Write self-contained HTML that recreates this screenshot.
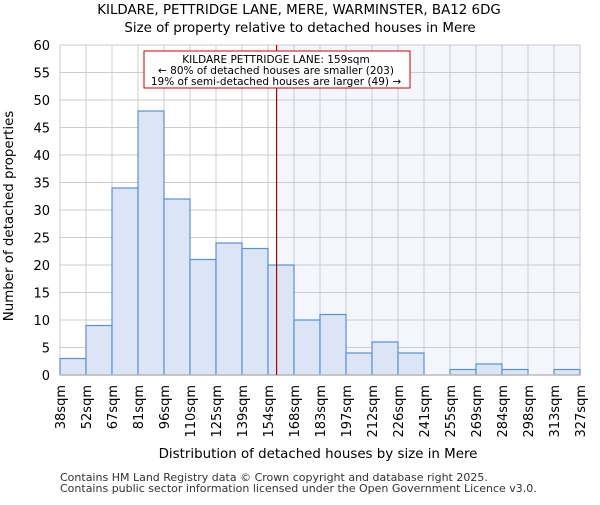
<!DOCTYPE html>
<html><head><meta charset="utf-8"><style>body{margin:0;background:#fff}svg{font-family:"DejaVu Sans","Liberation Sans",sans-serif}</style></head>
<body>
<svg id="c" width="600" height="500" xmlns="http://www.w3.org/2000/svg">
<text x="299" y="14" text-anchor="middle" font-size="13.4">KILDARE, PETTRIDGE LANE, MERE, WARMINSTER, BA12 6DG</text>
<text x="300" y="32" text-anchor="middle" font-size="13.4">Size of property relative to detached houses in Mere</text>
<g id="plot"></g>
<text x="318" y="458" text-anchor="middle" font-size="13.4">Distribution of detached houses by size in Mere</text>
<text transform="translate(13,216) rotate(-90)" text-anchor="middle" font-size="13.4">Number of detached properties</text>
<text x="60" y="481" font-size="11" fill="#333">Contains HM Land Registry data © Crown copyright and database right 2025.</text>
<text x="60" y="492" font-size="11" fill="#333">Contains public sector information licensed under the Open Government Licence v3.0.</text>
</svg>
<script>
const categories=["38sqm","52sqm","67sqm","81sqm","96sqm","110sqm","125sqm","139sqm","154sqm","168sqm","183sqm","197sqm","212sqm","226sqm","241sqm","255sqm","269sqm","284sqm","298sqm","313sqm","327sqm"];
const counts=[3,9,34,48,32,21,24,23,20,10,11,4,6,4,0,1,2,1,0,1];
const yTicks=[0,5,10,15,20,25,30,35,40,45,50,55,60];
const markerIndex=8.33;
const NS="http://www.w3.org/2000/svg";
const L=60,R=580,T=45,B=375,yMax=60;
const n=counts.length,bw=(R-L)/n;
const xs=i=>L+i*bw, ys=v=>B-(v/yMax)*(B-T);
const g=document.getElementById('plot');
function el(t,a){const e=document.createElementNS(NS,t);for(const k in a)e.setAttribute(k,a[k]);g.appendChild(e);return e;}
const mx=xs(markerIndex);
let s=el('rect',{x:mx,y:T,width:R-mx,height:B-T,fill:'#f3f6fd'});


yTicks.forEach(v=>{
  const l=el('line',{x1:L,x2:R,y1:ys(v),y2:ys(v),stroke:'#ccc','stroke-width':1});
  
  
  const t=el('text',{x:L-10,y:ys(v)+5,'text-anchor':'end','font-size':13});
  t.textContent=v;
  
  
});
categories.forEach((c,i)=>{
  const x=xs(i);
  const l=el('line',{x1:x,x2:x,y1:T,y2:B,stroke:'#ccc','stroke-width':1});
  
  
  const t=el('text',{transform:`translate(${x+5},${B+10}) rotate(-90)`,'text-anchor':'end','font-size':13});
  t.textContent=c;
  
  
});
counts.forEach((v,i)=>{
  if(v<=0)return;
  const r=el('rect',{x:xs(i),y:ys(v),width:bw,height:B-ys(v),fill:'#dbe5f5',stroke:'#5b8fd8','stroke-width':1.2});
  
  
});
let ax=el('line',{x1:L,x2:R,y1:B,y2:B,stroke:'#bbb','stroke-width':1.5});


let ml=el('line',{x1:mx,x2:mx,y1:T,y2:B,stroke:'#b00000','stroke-width':1.2});


let box=el('rect',{x:144,y:51,width:266,height:37,fill:'#fff',stroke:'#c00','stroke-width':1});


["KILDARE PETTRIDGE LANE: 159sqm","← 80% of detached houses are smaller (203)","19% of semi-detached houses are larger (49) →"].forEach((s,i)=>{
  const t=el('text',{x:276,y:63+i*11,'text-anchor':'middle','font-size':10.5});
  t.textContent=s;
  
  
});
</script>
</body></html>
